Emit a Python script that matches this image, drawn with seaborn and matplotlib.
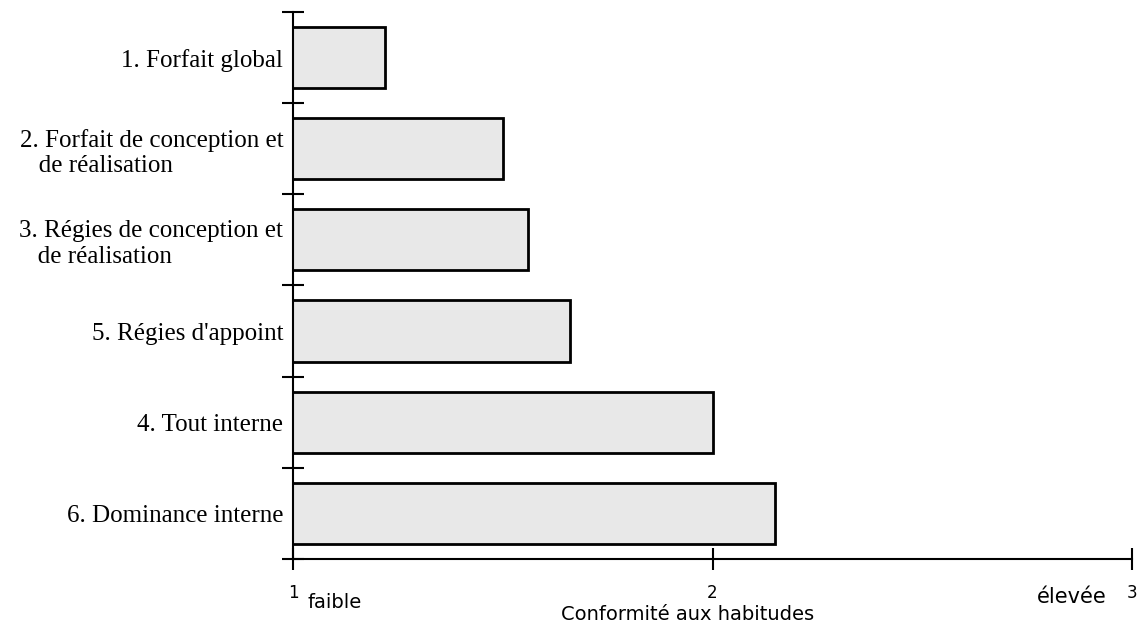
import matplotlib
matplotlib.use("Agg")
import matplotlib.pyplot as plt
import seaborn as sns
import pandas as pd

categories = [
    "1. Forfait global",
    "2. Forfait de conception et\n   de réalisation",
    "3. Régies de conception et\n   de réalisation",
    "5. Régies d'appoint",
    "4. Tout interne",
    "6. Dominance interne",
]
values = [1.22, 1.50, 1.56, 1.66, 2.00, 2.15]
x_ticks = [1, 2, 3]
x_tick_labels = ["1", "2", "3"]
x_title = "Conformité aux habitudes"
low_label = "faible"
high_label = "élevée"

sns.set_style("white")
plt.rcParams["font.family"] = ["DejaVu Sans"]
plt.rcParams["text.color"] = "black"
plt.rcParams["axes.labelcolor"] = "black"
plt.rcParams["xtick.color"] = "black"
plt.rcParams["ytick.color"] = "black"

df = pd.DataFrame({"cat": categories, "val": values})

fig = plt.figure(figsize=(11.46, 6.28), dpi=100)
ax = fig.add_axes([0.2557, 0.110, 0.7321, 0.871])

sns.barplot(data=df, x="val", y="cat", orient="h", color="#e8e8e8",
            edgecolor="black", linewidth=2, width=0.67, saturation=1, ax=ax)

ax.set_xlim(1, 3)
ax.set_ylim(5.5, -0.5)

for s in ["top", "right"]:
    ax.spines[s].set_visible(False)
for s in ["left", "bottom"]:
    ax.spines[s].set_linewidth(1.5)
    ax.spines[s].set_color("black")

ax.set_xticks(x_ticks)
ax.set_xticklabels(x_tick_labels, fontsize=12, family="DejaVu Sans")
ax.tick_params(axis="x", bottom=True, direction="inout", length=16, width=1.5,
               pad=10, colors="black")

# category labels at centres, boundary ticks as minor
ax.set_yticks(range(len(categories)))
ax.set_yticklabels(categories, fontsize=18, family="Liberation Serif")
for lbl in ax.get_yticklabels():
    lbl.set_multialignment("left")
ax.tick_params(axis="y", which="major", left=True, length=0, pad=7,
               colors="black")
ax.set_yticks([i - 0.5 for i in range(len(categories) + 1)], minor=True)
ax.tick_params(axis="y", which="minor", left=True, direction="inout",
               length=16, width=1.5, color="black")

ax.set_xlabel(x_title, fontsize=14, labelpad=0, color="black")
ax.set_ylabel("")
ax.xaxis.set_label_coords(0.47, -0.085)

ax.text(1.035, -0.08, low_label, transform=ax.get_xaxis_transform(),
        ha="left", va="center", fontsize=14)
ax.text(2.94, -0.07, high_label, transform=ax.get_xaxis_transform(),
        ha="right", va="center", fontsize=15)

fig.savefig("out.png", dpi=100)
